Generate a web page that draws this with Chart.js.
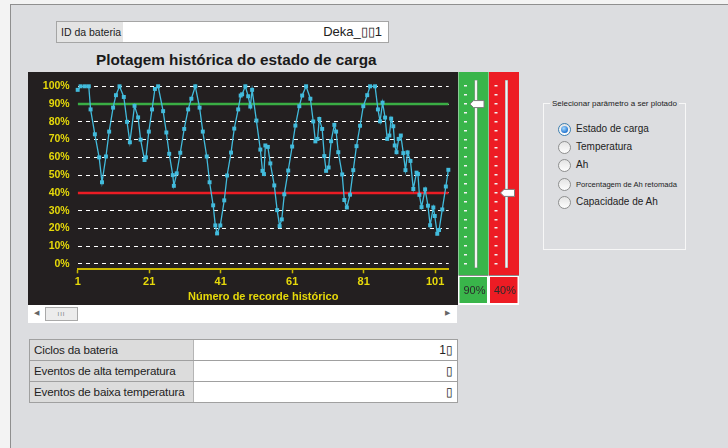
<!DOCTYPE html>
<html lang="pt">
<head>
<meta charset="UTF-8">
<script src="https://cdn.jsdelivr.net/npm/chart.js@4.4.0/dist/chart.umd.min.js"></script>
<style>
  body { margin: 0; background: #f3f3f3; font-family: "Liberation Sans", Arial, sans-serif; }
  #frame { position: absolute; left: 10px; top: 4px; width: 730px; height: 450px; background: #dcdde0;
    border-left: 1px solid #8f8f8f; border-top: 1px solid #8f8f8f; }
  .abs { position: absolute; }
  #idbox { left: 56px; top: 21px; width: 331px; height: 20px; border: 1px solid #a5a5a5; background: #fff; }
  #idlabel { left: 0; top: 0; width: 66px; height: 20px; background: #e4e4e4; font-size: 10.5px; line-height: 20px; padding-left: 4px; box-sizing: border-box; color: #222; }
  #idvalue { right: 6px; top: 0; font-size: 13px; line-height: 20px; color: #222; }
  #titulo { left: 96px; top: 51px; font-size: 15.3px; font-weight: bold; line-height: 18px; color: #1a1a1a; white-space: nowrap; }
  #chartbox { left: 28px; top: 72px; width: 491px; height: 233px; }
  #scroll { left: 28px; top: 305px; width: 429px; height: 18px; background: #fff; }
  #thumb { left: 17px; top: 2px; width: 33px; height: 14px; background: #ececec; border: 1px solid #a9a9a9; box-sizing: border-box;
    font-size: 6px; color: #777; text-align: center; line-height: 12px; letter-spacing: 1px; }
  .arrow { font-size: 7px; color: #666; top: 4px; }
  .row { left: 29px; width: 427px; height: 20px; border: 1px solid #a0a0a0; background: #fff; }
  .row .lab { position: absolute; left: 0; top: 0; width: 164px; height: 20px; background: #dcdcdc; border-right: 1px solid #b5b5b5;
    font-size: 11.6px; letter-spacing: -0.15px; line-height: 20px; padding-left: 4px; box-sizing: border-box; color: #222; white-space: nowrap; overflow: hidden; }
  .row .val { position: absolute; right: 4px; top: 0; font-size: 12px; line-height: 20px; color: #222; }
  #grupo { left: 543px; top: 103px; width: 141px; height: 145px; border: 1px solid #f7f7f7; }
  #grupoTit { left: 550px; top: 98px; background: #dcdde0; padding: 0 2px; font-size: 8px; color: #222; white-space: nowrap; line-height: 11px; }
  .radio { width: 11px; height: 11px; border: 1px solid #8e8f8f; border-radius: 50%; background: linear-gradient(#e4e4e4, #fdfdfd); }
  .radio.on { border-color: #3c7fb1; }
  .radio.on::after { content: ''; position: absolute; left: 2px; top: 2px; width: 7px; height: 7px; border-radius: 50%;
    background: radial-gradient(circle at 40% 35%, #a8dcff, #1a6fcf 75%); }
  .rlab { font-size: 10px; color: #222; white-space: nowrap; line-height: 12px; }
</style>
</head>
<body>
<div id="frame"></div>

<div id="idbox" class="abs">
  <div id="idlabel" class="abs">ID da bateria</div>
  <div id="idvalue" class="abs">Deka_▯▯1</div>
</div>

<div id="titulo" class="abs">Plotagem histórica do estado de carga</div>

<div id="chartbox" class="abs"><canvas id="grafico"></canvas></div>

<div id="scroll" class="abs">
  <div class="abs arrow" style="left:6px;">◀</div>
  <div id="thumb" class="abs">III</div>
  <div class="abs arrow" style="left:417px;">▶</div>
</div>

<div class="abs row" style="top:339px;"><div class="lab">Ciclos da bateria</div><div class="val">1▯</div></div>
<div class="abs row" style="top:360px;"><div class="lab">Eventos de alta temperatura</div><div class="val">▯</div></div>
<div class="abs row" style="top:381px;"><div class="lab">Eventos de baixa temperatura</div><div class="val">▯</div></div>

<div id="grupo" class="abs"></div>
<div id="grupoTit" class="abs">Selecionar parâmetro a ser plotado</div>
<div class="abs radio on" style="left:558px; top:123px;"></div>
<div class="abs rlab" style="left:576px; top:123px;">Estado de carga</div>
<div class="abs radio" style="left:558px; top:141px;"></div>
<div class="abs rlab" style="left:576px; top:141px;">Temperatura</div>
<div class="abs radio" style="left:558px; top:159px;"></div>
<div class="abs rlab" style="left:576px; top:159px;">Ah</div>
<div class="abs radio" style="left:558px; top:178px;"></div>
<div class="abs rlab" style="left:576px; top:179px; font-size:7.6px;">Porcentagem de Ah retomada</div>
<div class="abs radio" style="left:558px; top:196px;"></div>
<div class="abs rlab" style="left:576px; top:196px;">Capacidade de Ah</div>

<script>
    // numero do recorde (eixo x) e estado de carga em % (eixo y)
    var recordNumbers = [1.0, 1.8, 3.0, 4.1, 4.6, 5.8, 7.0, 7.8, 8.9, 9.8,
        10.9, 11.7, 12.7, 13.9, 14.8, 15.6, 16.9, 17.9, 18.6, 19.7,
        20.1, 20.9, 21.8, 22.6, 23.5, 24.9, 25.8, 26.6, 27.6, 27.9,
        28.7, 29.7, 30.8, 31.9, 32.8, 33.9, 35.1, 36.0, 37.1, 37.9,
        38.9, 39.5, 40.0, 40.9, 42.0, 42.8, 43.9, 44.8, 45.9, 46.6,
        47.0, 47.9, 48.7, 49.3, 49.8, 51.0, 52.1, 52.7, 53.1, 53.5,
        54.2, 54.9, 56.0, 56.8, 57.5, 58.1, 58.8, 59.9, 61.0, 61.9,
        63.0, 63.8, 64.9, 66.1, 66.9, 67.5, 68.1, 68.6, 69.4, 70.0,
        70.5, 71.2, 71.9, 72.8, 73.3, 73.9, 75.0, 75.6, 76.3, 77.2,
        78.1, 79.0, 80.0, 80.9, 82.0, 82.8, 84.2, 85.0, 85.6, 86.3,
        87.0, 87.6, 88.2, 88.7, 89.3, 89.7, 90.2, 90.8, 91.4, 92.1,
        92.7, 93.3, 94.1, 94.9, 95.8, 96.2, 96.6, 97.2, 98.2, 99.0,
        99.6, 100.5, 100.9, 101.6, 102.1, 103.0, 104.0, 104.7];
    var stateOfCharge = [98, 100, 100, 100, 87, 73, 60, 46, 60.5, 74.5,
        88, 95, 100, 94, 80, 68.5, 89, 82.5, 70, 58.5,
        60, 74.5, 87, 98.5, 100, 86, 74, 62, 50, 44,
        51, 62.6, 76, 87, 93, 100, 88, 74.5, 60.5, 46,
        33, 21.7, 17.2, 21.7, 35.8, 49.8, 62.7, 76.2, 87, 94.8,
        95.5, 100, 94.4, 88.6, 98, 80.7, 64.4, 52.4, 50.6, 66.7,
        65.9, 56.6, 44.2, 30.3, 21.3, 25.1, 39.2, 52.6, 66.1, 77.9,
        88.8, 94.8, 100, 93, 80.2, 69, 70.4, 81.6, 76, 60.7,
        52.4, 54.3, 69.1, 78.3, 74.5, 62.9, 50.4, 36, 31.8, 39,
        52.8, 66.3, 77.8, 88.8, 95, 100, 100, 87, 80.3, 90.8,
        82.4, 70.4, 72.3, 81.8, 77.5, 66.7, 62.9, 70.4, 72.3, 62.4,
        52.8, 62.8, 58, 42.2, 51.4, 50.6, 38.9, 32, 42, 32.8,
        21.8, 31.8, 27, 17, 19.1, 30.7, 43.6, 53];

    var xTicks = [1, 21, 41, 61, 81, 101];
    var yTicks = [0, 10, 20, 30, 40, 50, 60, 70, 80, 90, 100];
    var xMin = 1, xMax = 104.8;
    var upperLimit = 90; // limite verde
    var lowerLimit = 40; // limite vermelho

    var amarelo = '#e6d90a';
    var fonteEixo = "'Liberation Sans Narrow', 'Liberation Sans', Arial, sans-serif";

    var pontos = recordNumbers.map(function (r, i) { return { x: r, y: stateOfCharge[i] }; });

    // desenha um dos controles deslizantes ao lado do grafico
    function desenhaSlider(chart, x0, cor, valor) {
        var ctx = chart.ctx, y = chart.scales.y, w = 30;
        ctx.save();
        ctx.fillStyle = cor;
        ctx.fillRect(x0, 0, w, 203);
        ctx.fillStyle = '#f2f2f2';
        for (var v = 0; v <= 100; v += 5) {
            var py = Math.round(y.getPixelForValue(v));
            ctx.fillRect(x0 + 5.5, py - 1, 3, 1.5);
        }
        // trilho
        ctx.fillStyle = '#9a9a9a';
        ctx.fillRect(x0 + 16, 8, 3, 188);
        ctx.fillStyle = '#f4f4f4';
        ctx.fillRect(x0 + 16.5, 8.5, 2, 187);
        // cursor
        var ty = y.getPixelForValue(valor);
        ctx.beginPath();
        ctx.moveTo(x0 + 11.5, ty);
        ctx.lineTo(x0 + 15, ty - 3.5);
        ctx.lineTo(x0 + 25.5, ty - 3.5);
        ctx.lineTo(x0 + 25.5, ty + 3.5);
        ctx.lineTo(x0 + 15, ty + 3.5);
        ctx.closePath();
        ctx.fillStyle = '#ffffff';
        ctx.fill();
        ctx.strokeStyle = '#7d7d7d';
        ctx.lineWidth = 1;
        ctx.stroke();
        ctx.fillStyle = '#8c8c8c';
        ctx.fillRect(x0, 203, w, 1);
        // caixa com o valor
        ctx.fillStyle = cor;
        ctx.fillRect(x0 + 1, 205, w - 2.5, 26);
        ctx.fillStyle = '#2b2b2b';
        ctx.font = "11px 'Liberation Sans', Arial, sans-serif";
        ctx.textAlign = 'center';
        ctx.textBaseline = 'middle';
        ctx.fillText(valor + '%', x0 + 16, 218.5);
        ctx.restore();
    }

    var painelPlugin = {
        id: 'paineis',
        beforeDraw: function (chart) {
            var ctx = chart.ctx;
            ctx.save();
            ctx.fillStyle = '#231f20';
            ctx.fillRect(0, 0, 430, chart.height);
            ctx.fillStyle = '#ffffff';
            ctx.fillRect(430, 203, chart.width - 430, chart.height - 203);
            ctx.restore();
        },
        afterDraw: function (chart) {
            desenhaSlider(chart, 430.5, '#39b54a', upperLimit);
            desenhaSlider(chart, 461, '#ed1c24', lowerLimit);
        }
    };

    new Chart(document.getElementById('grafico'), {
        type: 'line',
        data: {
            datasets: [
                {
                    label: 'Estado de carga',
                    data: pontos,
                    borderColor: '#42bbdc',
                    backgroundColor: '#42bbdc',
                    borderWidth: 1.3,
                    pointStyle: 'rect',
                    pointRadius: 2.8,
                    pointBorderWidth: 0,
                    tension: 0,
                    clip: false
                },
                {
                    label: 'Limite superior',
                    data: [{ x: xMin, y: upperLimit }, { x: xMax, y: upperLimit }],
                    borderColor: '#3aad44',
                    borderWidth: 2.5,
                    pointRadius: 0
                },
                {
                    label: 'Limite inferior',
                    data: [{ x: xMin, y: lowerLimit }, { x: xMax, y: lowerLimit }],
                    borderColor: '#ec1c24',
                    borderWidth: 2.5,
                    pointRadius: 0
                }
            ]
        },
        options: {
            responsive: true,
            maintainAspectRatio: false,
            animation: false,
            layout: { padding: { top: 14, right: 70.3, left: 0, bottom: 0 } },
            plugins: { legend: { display: false }, tooltip: { enabled: false } },
            scales: {
                x: {
                    type: 'linear',
                    min: xMin,
                    max: xMax,
                    afterBuildTicks: function (s) { s.ticks = xTicks.map(function (v) { return { value: v }; }); },
                    afterFit: function (s) { s.height = 35.7; },
                    grid: { drawOnChartArea: false, color: '#c9b800', tickLength: 4, tickWidth: 1.5 },
                    border: { color: '#c9b800', width: 2 },
                    ticks: { color: amarelo, font: { family: fonteEixo, size: 11, weight: 'bold' }, padding: 2, maxRotation: 0, autoSkip: false },
                    title: {
                        display: true,
                        text: 'Número de recorde histórico',
                        color: amarelo,
                        font: { family: fonteEixo, size: 11, weight: 'bold' },
                        padding: { top: 0, bottom: 1 }
                    }
                },
                y: {
                    min: -3,
                    max: 100,
                    afterBuildTicks: function (s) { s.ticks = yTicks.map(function (v) { return { value: v }; }); },
                    afterFit: function (s) { s.width = 49.7; },
                    grid: { color: '#ffffff', drawTicks: false, lineWidth: 1 },
                    border: { display: false, dash: [4, 4] },
                    ticks: {
                        color: amarelo,
                        font: { family: fonteEixo, size: 10.5, weight: 'bold' },
                        padding: 8,
                        callback: function (v) { return v + '%'; }
                    }
                }
            }
        },
        plugins: [painelPlugin]
    });
</script>
</body>
</html>
